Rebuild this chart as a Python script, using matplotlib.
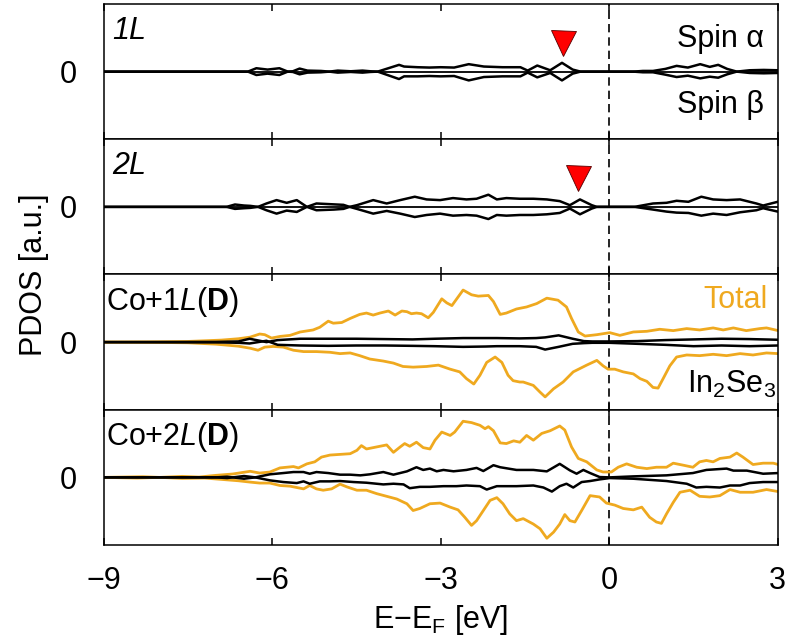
import matplotlib
matplotlib.use("Agg")
import matplotlib.pyplot as plt

plt.rcParams['font.family'] = ['Liberation Sans', 'DejaVu Sans']
plt.rcParams['mathtext.fontset'] = 'custom'
plt.rcParams['mathtext.rm'] = 'Liberation Sans'
plt.rcParams['mathtext.it'] = 'Liberation Sans:italic'
plt.rcParams['mathtext.bf'] = 'Liberation Sans:bold'
plt.rcParams['axes.unicode_minus'] = True

ORANGE = '#EFA91F'

# ---------------- Panel 1: 1L (spin alpha / beta) ----------------
e1 = [-9.0, -6.6, -6.43, -6.28, -6.08, -5.87, -5.72, -5.63, -5.51, -5.37, -5.13,
      -4.98, -4.83, -4.6, -4.39, -4.25, -4.12, -3.74, -3.65, -3.41, -3.2, -3.0,
      -2.76, -2.5, -2.23, -1.9, -1.58, -1.45, -1.28, -1.05, -0.84, -0.65, -0.51,
      0.43, 0.6, 0.78, 1.0, 1.2, 1.4, 1.62, 1.79, 1.94, 2.1, 2.27, 2.5, 2.75, 3.0]
up1 = [0.0, 0.0, 0.0, 0.05, 0.03, 0.05, 0.0, 0.005, 0.045, 0.015, 0.01,
       0.0, 0.015, 0.005, 0.015, 0.005, 0.0, 0.10, 0.075, 0.065, 0.06, 0.065,
       0.06, 0.11, 0.075, 0.065, 0.065, 0.015, 0.09, 0.02, 0.13, 0.03, 0.0,
       0.0, 0.01, 0.01, 0.04, 0.085, 0.06, 0.11, 0.07, 0.10, 0.04, 0.0, 0.02, 0.025, 0.02]
dn1 = [0.0, 0.0, 0.0, -0.05, -0.03, -0.05, 0.0, -0.005, -0.04, -0.015, -0.01,
       0.0, -0.015, -0.005, -0.015, -0.005, 0.0, -0.11, -0.07, -0.07, -0.065, -0.07,
       -0.065, -0.13, -0.08, -0.07, -0.07, -0.015, -0.085, -0.02, -0.13, -0.03, 0.0,
       0.0, -0.01, -0.01, -0.045, -0.08, -0.06, -0.10, -0.075, -0.09, -0.04, 0.0, -0.02, -0.025, -0.02]

# ---------------- Panel 2: 2L ----------------
e2 = [-9.0, -6.81, -6.66, -6.50, -6.39, -6.25, -6.10, -5.92, -5.74, -5.56, -5.38,
      -5.21, -4.90, -4.73, -4.62, -4.49, -4.20, -3.96, -3.72, -3.46, -3.25, -3.01,
      -2.78, -2.54, -2.36, -2.15, -2.00, -1.83, -1.59, -1.35, -1.11, -0.88, -0.70,
      -0.52, -0.31, -0.22, 0.45, 0.78, 1.02, 1.20, 1.41, 1.64, 1.85, 2.09, 2.33,
      2.62, 2.74, 3.0]
up2 = [0.0, 0.0, 0.035, 0.02, 0.015, 0.0, 0.05, 0.10, 0.06, 0.10, 0.0,
       0.05, 0.037, 0.03, 0.0, 0.025, 0.10, 0.05, 0.10, 0.15, 0.11, 0.10,
       0.13, 0.11, 0.12, 0.18, 0.11, 0.13, 0.12, 0.12, 0.11, 0.085, 0.025,
       0.11, 0.025, 0.0, 0.0, 0.05, 0.06, 0.09, 0.075, 0.15, 0.11, 0.10, 0.11,
       0.05, 0.02, 0.075]
dn2 = [0.0, 0.0, -0.03, -0.02, -0.015, 0.0, -0.05, -0.10, -0.055, -0.075, 0.0,
       -0.05, -0.04, -0.03, 0.0, -0.03, -0.10, -0.06, -0.10, -0.15, -0.12, -0.10,
       -0.13, -0.12, -0.13, -0.18, -0.12, -0.13, -0.12, -0.12, -0.11, -0.09, -0.025,
       -0.11, -0.025, 0.0, 0.0, -0.04, -0.07, -0.085, -0.09, -0.13, -0.10, -0.12, -0.08,
       -0.05, -0.02, -0.07]

# ---------------- Panel 3: Co+1L(D) ----------------
e3_tot_up = [-9.0, -8.5, -8.0, -7.5, -7.2, -6.9, -6.6, -6.39, -6.22, -6.13, -6.01, -5.86,
             -5.68, -5.50, -5.27, -5.15, -5.00, -4.91, -4.76, -4.61, -4.44, -4.32, -4.20,
             -4.08, -3.93, -3.81, -3.69, -3.60, -3.52, -3.43, -3.34, -3.22, -3.13, -2.98,
             -2.89, -2.80, -2.60, -2.45, -2.33, -2.15, -2.06, -1.94, -1.83, -1.65, -1.47,
             -1.29, -1.11, -0.91, -0.76, -0.67, -0.55, -0.43, -0.22, 0.01, 0.19, 0.43,
             0.67, 0.90, 1.14, 1.38, 1.61, 1.85, 2.03, 2.21, 2.44, 2.68, 2.80, 3.01]
tot_up3 = [0.0, 0.003, 0.006, 0.01, 0.02, 0.03, 0.05, 0.074, 0.12, 0.11, 0.06, 0.084,
           0.10, 0.15, 0.18, 0.22, 0.31, 0.28, 0.29, 0.35, 0.41, 0.43, 0.40,
           0.43, 0.46, 0.40, 0.46, 0.45, 0.42, 0.43, 0.42, 0.36, 0.44, 0.64,
           0.58, 0.54, 0.77, 0.70, 0.68, 0.69, 0.60, 0.41, 0.43, 0.49, 0.52,
           0.57, 0.65, 0.62, 0.52, 0.35, 0.15, 0.09, 0.11, 0.14, 0.10, 0.15,
           0.16, 0.19, 0.17, 0.20, 0.18, 0.21, 0.18, 0.21, 0.17, 0.20, 0.21, 0.17]
e3_tot_dn = [-9.0, -8.0, -7.5, -7.0, -6.6, -6.39, -6.25, -6.13, -5.98, -5.80, -5.62, -5.44,
             -5.21, -4.97, -4.79, -4.61, -4.44, -4.26, -4.02, -3.84, -3.67, -3.49, -3.25,
             -3.04, -2.83, -2.66, -2.54, -2.41, -2.30, -2.18, -2.03, -1.91, -1.80, -1.71,
             -1.59, -1.53, -1.35, -1.23, -1.14, -0.99, -0.82, -0.64, -0.40, -0.22, -0.11,
             -0.02, 0.10, 0.25, 0.43, 0.55, 0.67, 0.78, 0.87, 0.96, 1.08, 1.20, 1.38,
             1.61, 1.85, 2.09, 2.33, 2.56, 2.80, 3.01]
tot_dn3 = [0.0, -0.005, -0.01, -0.03, -0.06, -0.09, -0.12, -0.074, -0.064, -0.074, -0.12, -0.14,
           -0.14, -0.15, -0.17, -0.16, -0.20, -0.25, -0.28, -0.31, -0.36, -0.37, -0.36,
           -0.34, -0.40, -0.44, -0.54, -0.62, -0.49, -0.30, -0.22, -0.30, -0.49, -0.57,
           -0.59, -0.59, -0.64, -0.74, -0.81, -0.69, -0.59, -0.44, -0.34, -0.27, -0.35,
           -0.40, -0.40, -0.44, -0.47, -0.54, -0.58, -0.67, -0.68, -0.54, -0.35, -0.22, -0.19,
           -0.20, -0.18, -0.20, -0.17, -0.19, -0.16, -0.17]
e3_in = [-9.0, -7.0, -6.6, -6.4, -6.1, -5.9, -5.5, -5.0, -4.5, -4.0, -3.5, -3.1,
         -2.6, -2.2, -2.0, -1.6, -1.3, -1.14, -0.9, -0.65, -0.45, -0.3, 0.0, 0.5,
         1.0, 1.5, 2.0, 2.5, 3.0]
in_up3 = [0.0, 0.003, 0.01, 0.05, 0.0, 0.03, 0.05, 0.05, 0.05, 0.045, 0.04, 0.05,
          0.06, 0.06, 0.06, 0.055, 0.06, 0.07, 0.10, 0.05, 0.015, 0.01, 0.01, 0.015,
          0.03, 0.04, 0.05, 0.045, 0.035]
in_dn3 = [0.0, -0.003, -0.01, -0.02, 0.02, -0.04, -0.05, -0.055, -0.05, -0.05, -0.055, -0.06,
          -0.07, -0.065, -0.06, -0.06, -0.07, -0.11, -0.07, -0.025, -0.015, -0.01, -0.01, -0.025,
          -0.04, -0.06, -0.05, -0.06, -0.05]

# ---------------- Panel 4: Co+2L(D) ----------------
e4_tot_up = [-9.0, -8.3, -8.0, -7.6, -7.3, -7.0, -6.7, -6.39, -6.22, -6.04, -5.86, -5.62,
             -5.53, -5.38, -5.24, -5.12, -4.97, -4.79, -4.61, -4.49, -4.41, -4.32, -4.14,
             -3.96, -3.84, -3.72, -3.64, -3.55, -3.43, -3.31, -3.19, -3.10, -2.98, -2.83,
             -2.75, -2.60, -2.45, -2.30, -2.21, -2.15, -2.06, -1.94, -1.83, -1.70, -1.59,
             -1.47, -1.35, -1.20, -1.05, -0.88, -0.79, -0.67, -0.55, -0.40, -0.22, -0.11,
             0.04, 0.16, 0.31, 0.49, 0.67, 0.84, 1.02, 1.14, 1.32, 1.49, 1.61, 1.73,
             1.85, 1.97, 2.15, 2.27, 2.38, 2.56, 2.74, 2.92, 3.01]
tot_up4 = [0.0, 0.01, 0.0, 0.015, 0.005, 0.03, 0.05, 0.09, 0.064, 0.079, 0.14, 0.16,
           0.14, 0.20, 0.23, 0.30, 0.33, 0.34, 0.35, 0.40, 0.47, 0.42, 0.45,
           0.48, 0.37, 0.45, 0.50, 0.46, 0.52, 0.44, 0.42, 0.55, 0.67, 0.62,
           0.67, 0.83, 0.81, 0.77, 0.72, 0.75, 0.69, 0.51, 0.50, 0.54, 0.52,
           0.62, 0.55, 0.65, 0.69, 0.76, 0.70, 0.45, 0.28, 0.23, 0.11, 0.08,
           0.08, 0.15, 0.20, 0.15, 0.13, 0.15, 0.15, 0.21, 0.18, 0.15, 0.23, 0.25,
           0.23, 0.28, 0.30, 0.36, 0.30, 0.19, 0.21, 0.21, 0.19]
e4_tot_dn = [-9.0, -8.4, -8.0, -7.6, -7.2, -6.9, -6.6, -6.39, -6.22, -6.04, -5.86, -5.68,
             -5.56, -5.44, -5.33, -5.21, -5.09, -4.94, -4.79, -4.67, -4.49, -4.32, -4.14,
             -3.96, -3.78, -3.60, -3.49, -3.37, -3.19, -3.01, -2.83, -2.69, -2.57, -2.45,
             -2.36, -2.24, -2.12, -2.00, -1.89, -1.77, -1.65, -1.53, -1.35, -1.23, -1.11,
             -0.99, -0.88, -0.79, -0.70, -0.61, -0.49, -0.34, -0.17, -0.05, 0.10, 0.25,
             0.43, 0.58, 0.72, 0.84, 0.93, 1.02, 1.14, 1.26, 1.44, 1.61, 1.79, 1.97,
             2.15, 2.33, 2.56, 2.80, 3.01]
tot_dn4 = [0.0, -0.01, 0.0, -0.015, -0.01, -0.03, -0.05, -0.07, -0.084, -0.084, -0.12, -0.13,
           -0.15, -0.17, -0.12, -0.17, -0.19, -0.17, -0.10, -0.14, -0.19, -0.19, -0.24,
           -0.28, -0.32, -0.39, -0.49, -0.46, -0.39, -0.38, -0.44, -0.48, -0.59, -0.71,
           -0.64, -0.49, -0.34, -0.30, -0.39, -0.54, -0.64, -0.61, -0.69, -0.76, -0.90,
           -0.81, -0.69, -0.55, -0.64, -0.66, -0.49, -0.27, -0.29, -0.38, -0.41, -0.46,
           -0.48, -0.44, -0.59, -0.66, -0.68, -0.54, -0.37, -0.22, -0.19, -0.28, -0.29, -0.27,
           -0.18, -0.22, -0.22, -0.18, -0.21]
e4_in_up = [-9.0, -7.0, -6.8, -6.5, -6.3, -6.04, -5.80, -5.62, -5.44, -5.33, -5.21, -5.0,
            -4.79, -4.61, -4.43, -4.26, -4.02, -3.84, -3.60, -3.43, -3.31, -3.19, -3.07,
            -2.95, -2.77, -2.54, -2.36, -2.24, -2.06, -1.94, -1.65, -1.35, -1.11, -0.88,
            -0.70, -0.58, -0.46, -0.34, -0.17, 0.01, 0.43, 1.02, 1.49, 1.73, 2.09,
            2.21, 2.45, 2.74, 3.01]
in_up4 = [0.0, 0.0, 0.01, -0.02, 0.0, 0.045, 0.064, 0.079, 0.079, 0.054, 0.079, 0.064,
          0.04, 0.04, 0.03, 0.045, 0.079, 0.04, 0.089, 0.15, 0.11, 0.13, 0.09,
          0.11, 0.09, 0.11, 0.14, 0.094, 0.18, 0.15, 0.11, 0.11, 0.089, 0.20,
          0.104, 0.054, 0.11, 0.064, 0.005, 0.0, 0.015, 0.03, 0.064, 0.11, 0.13,
          0.10, 0.10, 0.054, 0.064]
e4_in_dn = [-9.0, -7.0, -6.8, -6.5, -6.3, -6.04, -5.80, -5.56, -5.44, -5.33, -5.15, -4.97,
            -4.79, -4.55, -4.32, -4.02, -3.84, -3.66, -3.55, -3.37, -3.19, -2.95, -2.72,
            -2.54, -2.30, -2.18, -2.00, -1.65, -1.35, -1.17, -1.02, -0.88, -0.76, -0.64,
            -0.49, -0.34, -0.17, 0.01, 0.43, 1.02, 1.38, 1.55, 1.73, 1.97, 2.15,
            2.33, 2.50, 2.74, 3.01]
in_dn4 = [0.0, 0.0, -0.01, 0.02, 0.0, -0.044, -0.069, -0.084, -0.059, -0.094, -0.059, -0.059,
          -0.054, -0.069, -0.079, -0.104, -0.094, -0.104, -0.16, -0.14, -0.14, -0.13, -0.13,
          -0.12, -0.13, -0.18, -0.13, -0.13, -0.12, -0.15, -0.21, -0.13, -0.094, -0.15,
          -0.069, -0.054, -0.03, -0.01, -0.02, -0.054, -0.094, -0.15, -0.14, -0.15, -0.12,
          -0.12, -0.084, -0.069, -0.069]

# marker positions (red triangles)
tri1 = (-0.82, 0.43)
tri2 = (-0.56, 0.42)

xticks = [-9, -6, -3, 0, 3]

fig = plt.figure(figsize=(7.92, 6.43), dpi=100)
axes = fig.subplots(4, 1, sharex=True)
fig.subplots_adjust(left=0.1307, right=0.982, top=0.9938, bottom=0.1524, hspace=0)

FS = 22
for ax in axes:
    ax.set_xlim(-9, 3)
    ax.set_ylim(-1, 1)
    ax.set_xticks(xticks)
    ax.set_yticks([0])
    ax.set_yticklabels(['0'])
    ax.tick_params(axis='x', direction='in', top=True, bottom=True, length=5, width=1.1,
                   labelsize=FS, pad=15)
    ax.tick_params(axis='y', length=0, labelsize=FS, pad=19)
    for s in ax.spines.values():
        s.set_linewidth(1.1)
    ax.axvline(0, color='black', lw=1.2, ls=(0, (5, 3)), zorder=1)

BLW = 1.8
OLW = 2.0

# Panel 1
ax = axes[0]
ax.axhline(0, color='black', lw=1.3, zorder=2)
ax.plot(e1, up1, color='black', lw=BLW, zorder=3, solid_joinstyle='round')
ax.plot(e1, dn1, color='black', lw=BLW, zorder=3, solid_joinstyle='round')
ax.plot([tri1[0]], [tri1[1]], marker='v', ms=18, color='red', mec='#550000', mew=0.6, zorder=4)
ax.text(0.013, 0.80, '1L', transform=ax.transAxes, fontsize=FS, style='italic', va='center', ha='left')
ax.text(0.98, 0.74, 'Spin α', transform=ax.transAxes, fontsize=FS, va='center', ha='right')
ax.text(0.98, 0.25, 'Spin β', transform=ax.transAxes, fontsize=FS, va='center', ha='right')

# Panel 2
ax = axes[1]
ax.axhline(0, color='black', lw=1.3, zorder=2)
ax.plot(e2, up2, color='black', lw=BLW, zorder=3, solid_joinstyle='round')
ax.plot(e2, dn2, color='black', lw=BLW, zorder=3, solid_joinstyle='round')
ax.plot([tri2[0]], [tri2[1]], marker='v', ms=18, color='red', mec='#550000', mew=0.6, zorder=4)
ax.text(0.013, 0.80, '2L', transform=ax.transAxes, fontsize=FS, style='italic', va='center', ha='left')

# Panel 3
ax = axes[2]
ax.plot(e3_tot_up, tot_up3, color=ORANGE, lw=OLW, zorder=2, solid_joinstyle='round')
ax.plot(e3_tot_dn, tot_dn3, color=ORANGE, lw=OLW, zorder=2, solid_joinstyle='round')
ax.plot(e3_in, in_up3, color='black', lw=BLW, zorder=3, solid_joinstyle='round')
ax.plot(e3_in, in_dn3, color='black', lw=BLW, zorder=3, solid_joinstyle='round')
ax.text(0.003, 0.80, r'Co+$\mathit{1L}$($\mathbf{D}$)', transform=ax.transAxes, fontsize=FS,
        va='center', ha='left')
ax.text(0.985, 0.81, 'Total', transform=ax.transAxes, fontsize=FS, color=ORANGE, va='center', ha='right')
ax.text(0.998, 0.19, r'In$_2$Se$_3$', transform=ax.transAxes, fontsize=FS, va='center', ha='right')

# Panel 4
ax = axes[3]
ax.plot(e4_tot_up, tot_up4, color=ORANGE, lw=OLW, zorder=2, solid_joinstyle='round')
ax.plot(e4_tot_dn, tot_dn4, color=ORANGE, lw=OLW, zorder=2, solid_joinstyle='round')
ax.plot(e4_in_up, in_up4, color='black', lw=BLW, zorder=3, solid_joinstyle='round')
ax.plot(e4_in_dn, in_dn4, color='black', lw=BLW, zorder=3, solid_joinstyle='round')
ax.text(0.003, 0.80, r'Co+$\mathit{2L}$($\mathbf{D}$)', transform=ax.transAxes, fontsize=FS,
        va='center', ha='left')
ax.set_xticklabels(['\u22129', '\u22126', '\u22123', '0', '3'])
ax.set_xlabel(r'E$-$E$_\mathregular{F}$ [eV]', fontsize=FS, labelpad=5)

fig.text(0.043, (0.9938 + 0.1524) / 2, 'PDOS [a.u.]', rotation=90, fontsize=FS, va='center', ha='center')

fig.savefig('out.png', dpi=100)
